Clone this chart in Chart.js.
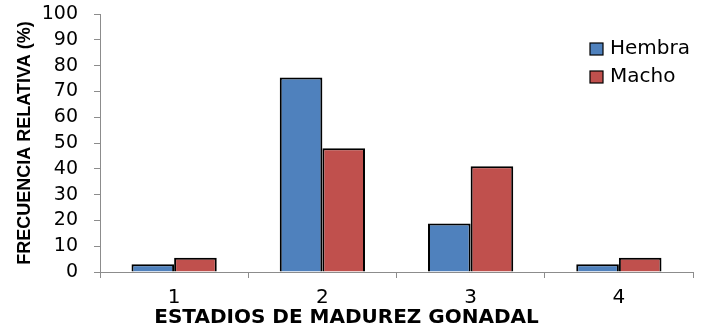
<!DOCTYPE html>
<html>
<head>
<meta charset="utf-8">
<script src="https://cdn.jsdelivr.net/npm/chart.js"></script>
<style>
  html, body { margin: 0; padding: 0; background: #fff; }
  #wrap { width: 701px; height: 333px; }
</style>
</head>
<body>
<div id="wrap"><canvas id="chart"></canvas></div>
<script>
// data
const stages = ['1', '2', '3', '4'];
const hembra = [3, 75.4, 18.8, 3];
const macho = [5.5, 48, 41, 5.5];
const yTicks = [0, 10, 20, 30, 40, 50, 60, 70, 80, 90, 100];

const axisGray = '#8c8c8c';

// small legend drawn inside the plot, top right
const insideLegend = {
    id: 'insideLegend',
    afterDraw(chart) {
        const ctx = chart.ctx;
        const area = chart.chartArea;
        const x0 = area.right - 103;
        let y0 = area.top + 35;
        ctx.save();
        ctx.font = '20px "DejaVu Sans"';
        ctx.textBaseline = 'middle';
        chart.data.datasets.forEach(ds => {
            ctx.fillStyle = ds.backgroundColor;
            ctx.fillRect(x0, y0 - 6, 13, 12);
            ctx.lineWidth = 1.2;
            ctx.strokeStyle = '#000';
            ctx.strokeRect(x0, y0 - 6, 13, 12);
            ctx.fillStyle = '#000';
            ctx.fillText(ds.label, x0 + 20, y0);
            y0 += 28;
        });
        ctx.restore();
    }
};

new Chart(document.getElementById('chart'), {
    type: 'bar',
    data: {
        labels: stages,
        datasets: [
            {
                label: 'Hembra',
                data: hembra,
                backgroundColor: '#4F81BD',
                borderColor: '#000',
                borderWidth: 2
            },
            {
                label: 'Macho',
                data: macho,
                backgroundColor: '#C0504D',
                borderColor: '#000',
                borderWidth: 2
            }
        ]
    },
    options: {
        responsive: true,
        maintainAspectRatio: false,
        animation: false,
        layout: { padding: { top: 14, right: 8, left: 0, bottom: 0 } },
        datasets: {
            bar: { categoryPercentage: 0.575, barPercentage: 1 }
        },
        plugins: {
            legend: { display: false },
            tooltip: { enabled: false },
            title: {
                display: true,
                position: 'bottom',
                text: 'ESTADIOS DE MADUREZ GONADAL',
                color: '#000',
                font: { family: '"DejaVu Sans"', size: 20, weight: 'bold' },
                padding: { top: 0, bottom: 3 }
            }
        },
        scales: {
            x: {
                afterFit: scale => { scale.height = 34; },
                grid: {
                    display: true,
                    drawOnChartArea: false,
                    offset: true,
                    tickLength: 6,
                    color: axisGray
                },
                border: { color: axisGray, width: 1 },
                ticks: {
                    color: '#000',
                    padding: 8,
                    font: { family: '"DejaVu Sans"', size: 20 }
                }
            },
            y: {
                min: 0,
                max: 100,
                afterBuildTicks: scale => {
                    scale.ticks = yTicks.map(v => ({ value: v }));
                },
                afterFit: scale => {
                    scale.width = 100;
                    scale.paddingTop = 0;
                    scale.paddingBottom = 0;
                },
                grid: {
                    display: true,
                    drawOnChartArea: false,
                    tickLength: 6,
                    color: axisGray
                },
                border: { color: axisGray, width: 1 },
                ticks: {
                    color: '#000',
                    padding: 16,
                    autoSkip: false,
                    font: { family: '"DejaVu Sans"', size: 19 }
                },
                title: {
                    display: true,
                    text: 'FRECUENCIA RELATIVA (%)',
                    color: '#000',
                    font: { family: '"Liberation Sans"', size: 18, weight: 'bold' },
                    padding: { top: 14, bottom: 0 }
                }
            }
        }
    },
    plugins: [insideLegend]
});
</script>
</body>
</html>
